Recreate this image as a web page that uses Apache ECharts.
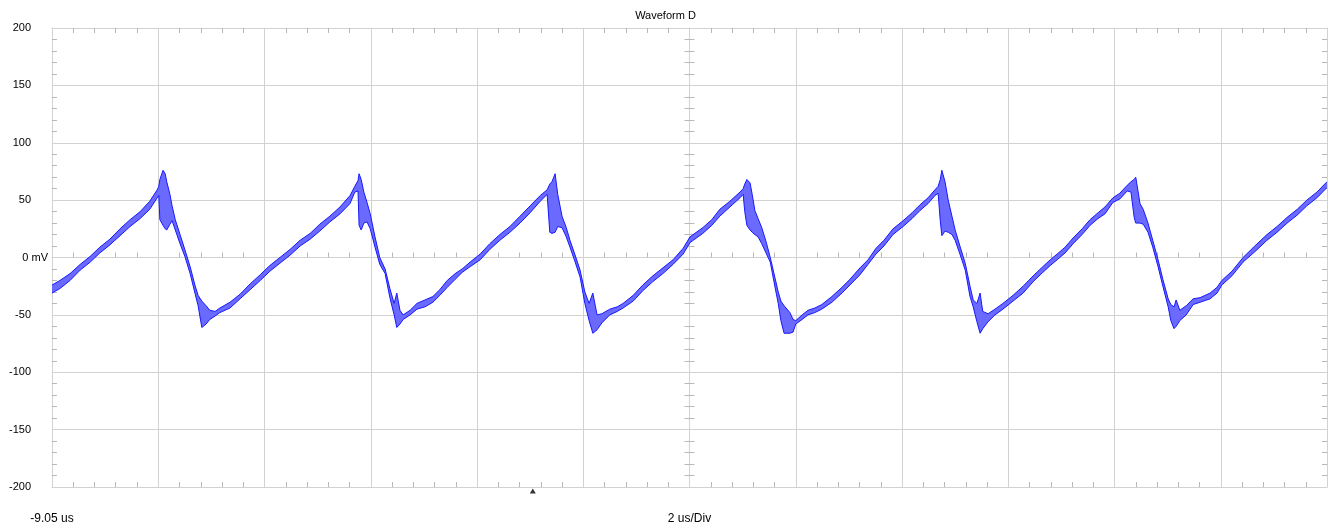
<!DOCTYPE html>
<html>
<head>
<meta charset="utf-8">
<script src="https://cdn.jsdelivr.net/npm/echarts@6/dist/echarts.min.js"></script>
<style>
html,body{margin:0;padding:0;background:#fff;}
#chart{width:1331px;height:529px;}
</style>
</head>
<body>
<div id="chart"></div>
<script>
// ---- data (time in us from start of sweep, voltage in mV) ----
const title = 'Waveform D';
const sweepStartLabel = '-9.05 us';
const timebaseLabel = '2 us/Div';
const zeroLabel = '0 mV';
const sweepLengthUs = 24;          // 12 divisions x 2 us
const triggerTimeUs = [9.05];      // t = 0 us, measured from start of sweep
const yTicks = [-200, -150, -100, -50, 0, 50, 100, 150, 200];

const times = [
  0, 0.15, 0.34, 0.53, 0.72, 0.90, 1.09, 1.28, 1.47, 1.66, 1.84, 1.98, 2.01, 2.03, 2.09, 2.13, 2.16, 2.22, 2.26, 2.32,
  2.41, 2.50, 2.60, 2.69, 2.75, 2.82, 2.90, 2.97, 3.07, 3.16, 3.35, 3.54, 3.73, 3.92, 4.10, 4.29, 4.48, 4.67, 4.86, 5.04,
  5.23, 5.42, 5.61, 5.70, 5.76, 5.78, 5.82, 5.87, 5.93, 5.99, 6.08, 6.17, 6.27, 6.36, 6.44, 6.49, 6.55, 6.61, 6.74, 6.87,
  7.02, 7.17, 7.30, 7.44, 7.59, 7.72, 7.87, 8.06, 8.24, 8.43, 8.62, 8.81, 9.00, 9.19, 9.32, 9.37, 9.41, 9.47, 9.52, 9.60,
  9.68, 9.75, 9.84, 9.94, 10.03, 10.11, 10.18, 10.26, 10.35, 10.50, 10.64, 10.75, 10.94, 11.12, 11.31, 11.50, 11.69, 11.88,
  12.01, 12.25, 12.42, 12.57, 12.76, 12.95, 13.01, 13.04, 13.08, 13.14, 13.18, 13.23, 13.29, 13.36, 13.44, 13.52, 13.61,
  13.67, 13.72, 13.78, 13.89, 13.95, 14.00, 14.12, 14.23, 14.36, 14.49, 14.68, 14.87, 15.02, 15.21, 15.36, 15.51, 15.66,
  15.83, 16.02, 16.19, 16.34, 16.49, 16.62, 16.68, 16.72, 16.75, 16.81, 16.87, 16.94, 17.00, 17.09, 17.19, 17.28, 17.34,
  17.41, 17.47, 17.52, 17.62, 17.75, 17.90, 18.09, 18.28, 18.47, 18.65, 18.79, 18.92, 19.07, 19.22, 19.39, 19.54, 19.69,
  19.82, 19.97, 20.10, 20.24, 20.31, 20.37, 20.40, 20.48, 20.54, 20.63, 20.72, 20.82, 20.91, 21.01, 21.06, 21.12, 21.16,
  21.23, 21.35, 21.48, 21.61, 21.80, 21.93, 22.02, 22.21, 22.42, 22.64, 22.87, 23.06, 23.25, 23.44, 23.62, 23.81, 24.00
];

const upper = [
  -24, -20, -14, -6, 1, 9, 16, 25, 33, 40, 49, 59, 62, 68, 76, 73, 66, 55, 45, 33,
  20, 7, -8, -24, -33, -38, -42, -46, -47, -44, -39, -32, -23, -15, -7, 0, 7, 15, 21, 29,
  36, 44, 54, 62, 67, 73, 68, 57, 48, 38, 18, 0, -10, -27, -40, -31, -46, -50, -46, -40,
  -37, -34, -28, -20, -14, -10, -4, 3, 12, 20, 27, 36, 45, 54, 59, 64, 66, 73, 55, 36,
  26, 15, 3, -11, -30, -40, -31, -50, -49, -45, -43, -40, -33, -24, -16, -9, -2, 8,
  18, 26, 33, 42, 49, 57, 60, 64, 68, 65, 55, 41, 34, 26, 14, 0, -18,
  -30, -38, -42, -48, -54, -55, -50, -46, -44, -41, -34, -26, -19, -9, -2, 8, 15,
  25, 32, 39, 46, 52, 59, 62, 68, 76, 66, 50, 36, 24, 10, -5, -25, -37,
  -40, -31, -47, -49, -45, -40, -33, -25, -16, -8, -2, 3, 9, 17, 25, 33, 39,
  44, 52, 56, 63, 66, 68, 70, 47, 42, 30, 15, -2, -19, -36, -41, -43, -37,
  -46, -42, -36, -35, -31, -26, -20, -12, 0, 10, 20, 27, 35, 42, 50, 57, 66
];

const lower = [
  -31, -27, -20, -11, -4, 4, 11, 19, 27, 34, 42, 52, 54, 33, 28, 25, 24, 29, 32, 24,
  12, 1, -14, -31, -42, -61, -58, -54, -51, -48, -44, -36, -28, -20, -12, -5, 2, 10, 16, 23,
  31, 38, 47, 57, 58, 28, 24, 30, 31, 25, 9, -6, -14, -35, -50, -61, -58, -54, -50, -45,
  -43, -39, -33, -26, -19, -13, -8, -2, 7, 15, 22, 30, 39, 49, 55, 22, 21, 22, 27, 26,
  18, 9, -3, -17, -40, -55, -66, -63, -57, -50, -47, -44, -38, -29, -21, -14, -6, 3,
  13, 21, 28, 36, 44, 52, 55, 40, 28, 24, 22, 20, 18, 12, 4, -4, -26,
  -40, -55, -66, -66, -65, -58, -54, -50, -48, -45, -39, -31, -24, -15, -6, 3, 10,
  20, 27, 34, 41, 47, 54, 56, 32, 19, 23, 22, 20, 15, 3, -11, -34, -43,
  -56, -66, -62, -56, -50, -45, -38, -31, -21, -13, -7, -2, 4, 12, 20, 28, 34,
  38, 48, 51, 58, 57, 35, 30, 30, 29, 22, 9, -8, -25, -43, -55, -62, -60,
  -55, -50, -41, -39, -36, -31, -24, -16, -4, 5, 15, 22, 30, 37, 45, 52, 61
];

// ---- build ----
const half = sweepLengthUs / 2;           // axis is centred on the middle of the sweep
const toX = t => +(t - half).toFixed(3);
const envData = times.map((t, i) => [toX(t), upper[i], lower[i]]);

const gridColor = '#d2d2d2';
const tickColor = '#b8b8b8';
const edgeColor = '#1818ff';
const fillColor = '#6a6aff';
const font = 'Liberation Sans, Arial, sans-serif';
const xBase = { type: 'value', min: -half, max: half, interval: 2 };
const yBase = { type: 'value', min: yTicks[0], max: yTicks[yTicks.length - 1], interval: 50 };
const minor = { show: true, splitNumber: 5, length: 5, lineStyle: { color: tickColor, width: 1 } };
const noLabel = { show: false };

function renderEnvelope(params, api) {
  if (params.dataIndex !== 0) return null;
  const top = envData.map(d => api.coord([d[0], d[1]]));
  const bot = envData.map(d => api.coord([d[0], d[2]]));
  const poly = top.concat(bot.slice().reverse());
  return {
    type: 'group',
    children: [
      { type: 'polygon', shape: { points: poly }, style: { fill: fillColor, stroke: null } },
      { type: 'polyline', shape: { points: top }, style: { fill: null, stroke: edgeColor, lineWidth: 1 } },
      { type: 'polyline', shape: { points: bot }, style: { fill: null, stroke: edgeColor, lineWidth: 1 } }
    ]
  };
}

const chart = echarts.init(document.getElementById('chart'), null, { renderer: 'canvas' });
chart.setOption({
  animation: false,
  backgroundColor: '#ffffff',
  title: {
    text: title, left: 'center', top: 5,
    textStyle: { fontFamily: font, fontSize: 11, fontWeight: 'normal', color: '#000' }
  },
  grid: { left: 52, right: 4, top: 28, bottom: 42, containLabel: false },
  xAxis: [
    Object.assign({}, xBase, {
      position: 'bottom',
      axisLine: { onZero: false, lineStyle: { color: gridColor } },
      axisTick: { show: false, inside: true },
      minorTick: minor,
      splitLine: { show: true, lineStyle: { color: gridColor, width: 1 } },
      axisLabel: {
        margin: 26, fontSize: 12, fontFamily: font, color: '#000',
        showMinLabel: true, showMaxLabel: true,
        formatter: v => (v === -half ? sweepStartLabel : (v === 0 ? timebaseLabel : ''))
      }
    }),
    Object.assign({}, xBase, {
      position: 'top',
      axisLine: { onZero: false, lineStyle: { color: gridColor } },
      axisTick: { show: false, inside: true },
      minorTick: minor,
      splitLine: { show: false },
      axisLabel: noLabel
    }),
    Object.assign({}, xBase, {
      position: 'bottom',
      axisLine: { show: true, onZero: true, onZeroAxisIndex: 0, lineStyle: { color: gridColor } },
      axisTick: { show: false, inside: true },
      minorTick: minor,
      splitLine: { show: false },
      axisLabel: noLabel
    })
  ],
  yAxis: [
    Object.assign({}, yBase, {
      position: 'left',
      axisLine: { onZero: false, lineStyle: { color: gridColor } },
      axisTick: { show: false, inside: true },
      minorTick: minor,
      splitLine: { show: true, lineStyle: { color: gridColor, width: 1 } },
      axisLabel: {
        margin: 21, fontSize: 11, fontFamily: font, color: '#000',
        showMinLabel: true, showMaxLabel: true,
        formatter: v => (v === 0 ? '' : String(v))
      }
    }),
    Object.assign({}, yBase, {
      position: 'left',
      axisLine: { show: false, onZero: false },
      axisTick: { show: false },
      splitLine: { show: false },
      axisLabel: {
        margin: 4, fontSize: 11, fontFamily: font, color: '#000',
        formatter: v => (v === 0 ? zeroLabel : '')
      }
    }),
    Object.assign({}, yBase, {
      position: 'right',
      axisLine: { onZero: false, lineStyle: { color: gridColor } },
      axisTick: { show: false, inside: true },
      minorTick: minor,
      splitLine: { show: false },
      axisLabel: noLabel
    }),
    Object.assign({}, yBase, {
      position: 'left',
      axisLine: { show: true, onZero: true, onZeroAxisIndex: 0, lineStyle: { color: gridColor } },
      axisTick: { show: false, inside: true },
      minorTick: minor,
      splitLine: { show: false },
      axisLabel: noLabel
    }),
    Object.assign({}, yBase, {
      position: 'left',
      axisLine: { show: true, onZero: true, onZeroAxisIndex: 0, lineStyle: { color: gridColor } },
      axisTick: { show: false, inside: false },
      minorTick: minor,
      splitLine: { show: false },
      axisLabel: noLabel
    })
  ],
  series: [
    {
      name: 'Waveform D', type: 'custom', xAxisIndex: 0, yAxisIndex: 0,
      data: envData,
      encode: { x: 0, y: [1, 2] },
      renderItem: renderEnvelope,
      clip: true,
      z: 3
    },
    {
      name: 'trigger', type: 'scatter', xAxisIndex: 0, yAxisIndex: 0,
      data: triggerTimeUs.map(t => [toX(t), yTicks[0]]),
      symbol: 'triangle', symbolSize: [6, 5], symbolOffset: [0, 4],
      itemStyle: { color: '#000' }, clip: false, silent: true, z: 4
    }
  ]
});
</script>
</body>
</html>
